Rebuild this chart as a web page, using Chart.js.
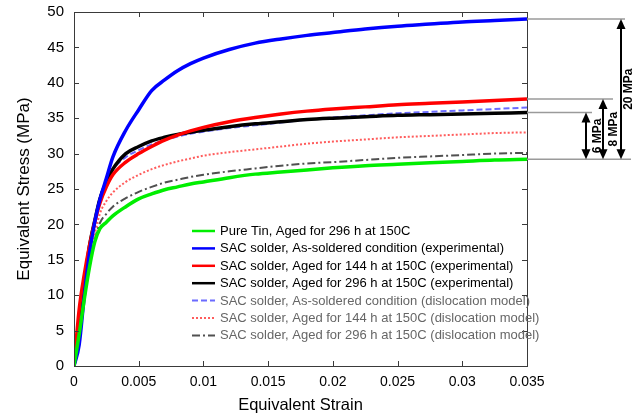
<!DOCTYPE html>
<html lang="en">

<head>
  <meta charset="UTF-8">
  <title>Equivalent Stress vs Strain</title>
  <style>
    body {
      margin: 0;
      background-color: #ffffff;
    }

    .chart-box {
      width: 642px;
      height: 420px;
      position: relative;
    }
  </style>
  <script src="https://cdn.jsdelivr.net/npm/chart.js"></script>
</head>

<body>
  <div class="chart-box">
    <canvas id="stressChart"></canvas>
  </div>

  <script>
    // strain samples shared by every curve
    const strain = [0, 0.0004, 0.0008, 0.0012, 0.0016, 0.002, 0.0025, 0.003, 0.004, 0.005, 0.006, 0.007, 0.008,
      0.009, 0.01, 0.012, 0.014, 0.016, 0.018, 0.02, 0.0225, 0.025, 0.0275, 0.03, 0.0325, 0.035];

    // equivalent stress (MPa)
    const pureTin296 = [0, 4.5, 9.5, 14, 17.5, 19.4, 20.3, 21.2, 22.5, 23.6, 24.3, 24.9, 25.3, 25.7, 26.0, 26.6,
      27.1, 27.4, 27.7, 28.0, 28.3, 28.5, 28.7, 28.9, 29.1, 29.2];
    const sacAsSolderedExp = [0, 3, 10, 16, 20.3, 23.5, 26.5, 29.5, 33.3, 36.2, 38.9, 40.4, 41.7, 42.7, 43.5, 44.7,
      45.6, 46.2, 46.7, 47.1, 47.6, 48.0, 48.3, 48.6, 48.8, 49.0];
    const sacAged144Exp = [0, 8, 13, 17, 20.3, 23, 25.3, 27, 28.8, 30.0, 31.0, 31.9, 32.6, 33.2, 33.7, 34.5,
      35.1, 35.6, 36.0, 36.3, 36.6, 36.9, 37.1, 37.3, 37.5, 37.7];
    const sacAged296Exp = [0, 5, 11.5, 17, 20.5, 23.6, 26, 27.8, 30.0, 31.0, 31.8, 32.3, 32.7, 33.0, 33.3, 33.8,
      34.2, 34.5, 34.8, 35.0, 35.2, 35.4, 35.5, 35.6, 35.7, 35.8];
    const sacAsSolderedModel = [0, 4, 9.5, 15.5, 20.5, 23.8, 26.3, 27.8, 29.5, 30.5, 31.3, 31.9, 32.4, 32.8, 33.1,
      33.6, 34.0, 34.4, 34.8, 35.1, 35.4, 35.7, 35.9, 36.1, 36.3, 36.5];
    const sacAged144Model = [0, 4.5, 9.5, 14.5, 18.5, 21.5, 23.3, 24.5, 26.0, 27.0, 27.8, 28.4, 28.9, 29.3, 29.7,
      30.2, 30.6, 31.0, 31.4, 31.7, 32.0, 32.3, 32.5, 32.7, 32.9, 33.0];
    const sacAged296Model = [0, 4.5, 9.5, 14, 17.8, 20.2, 21.5, 22.5, 23.7, 24.6, 25.3, 25.9, 26.3, 26.7, 27.0,
      27.5, 27.9, 28.3, 28.6, 28.8, 29.1, 29.4, 29.6, 29.8, 30.0, 30.1];

    const seriesNames = [
      'Pure Tin, Aged for 296 h at 150C',
      'SAC solder, As-soldered condition (experimental)',
      'SAC solder, Aged for 144 h at 150C (experimental)',
      'SAC solder, Aged for 296 h at 150C (experimental)',
      'SAC solder, As-soldered condition (dislocation model)',
      'SAC solder, Aged for 144 h at 150C (dislocation model)',
      'SAC solder, Aged for 296 h at 150C (dislocation model)'
    ];

    const toPoints = values => values.map((v, i) => ({ x: strain[i], y: v }));

    function curve(label, values, color, width, dash, textColor) {
      return {
        label: label,
        data: toPoints(values),
        borderColor: color,
        borderWidth: width,
        borderDash: dash,
        textColor: textColor,
        pointRadius: 0,
        fill: false,
        cubicInterpolationMode: 'monotone'
      };
    }

    // short gray guides + double arrows showing the stress gaps at the end of the curves
    const gapNotes = {
      id: 'gapNotes',
      afterDraw(chart) {
        const ctx = chart.ctx;
        const y = chart.scales.y;
        const right = chart.chartArea.right;
        const last = arr => arr[arr.length - 1];
        const yTin = y.getPixelForValue(last(pureTin296));
        const yBlue = y.getPixelForValue(last(sacAsSolderedExp));
        const yRed = y.getPixelForValue(last(sacAged144Exp));
        const yBlack = y.getPixelForValue(last(sacAged296Exp));

        ctx.save();
        ctx.strokeStyle = '#9a9a9a';
        ctx.lineWidth = 1.5;
        [[yBlue, 625], [yRed, 613], [yBlack, 592], [yTin, 631]].forEach(([py, x2]) => {
          ctx.beginPath();
          ctx.moveTo(right, py);
          ctx.lineTo(x2, py);
          ctx.stroke();
        });

        function arrow(x, y1, y2, text, tx) {
          const head = 10, half = 4.5;
          ctx.strokeStyle = '#000';
          ctx.fillStyle = '#000';
          ctx.lineWidth = 2;
          ctx.beginPath();
          ctx.moveTo(x, y1 + head - 1);
          ctx.lineTo(x, y2 - head + 1);
          ctx.stroke();
          ctx.beginPath();
          ctx.moveTo(x, y1);
          ctx.lineTo(x - half, y1 + head);
          ctx.lineTo(x + half, y1 + head);
          ctx.closePath();
          ctx.fill();
          ctx.beginPath();
          ctx.moveTo(x, y2);
          ctx.lineTo(x - half, y2 - head);
          ctx.lineTo(x + half, y2 - head);
          ctx.closePath();
          ctx.fill();

          ctx.save();
          ctx.translate(tx, (y1 + y2) / 2);
          ctx.rotate(-Math.PI / 2);
          ctx.font = 'bold 12px Arial, "Liberation Sans"';
          ctx.textAlign = 'center';
          ctx.textBaseline = 'middle';
          ctx.fillText(text, 0, 0);
          ctx.restore();
        }

        arrow(586, yBlack, yTin, '6 MPa', 598);
        arrow(603, yRed, yTin, '8 MPa', 614);
        arrow(621, yBlue, yTin, '20 MPa', 629);
        ctx.restore();
      }
    };

    // box around the plot with inward tick marks on all four sides
    const frame = {
      id: 'frame',
      afterDatasetsDraw(chart) {
        const ctx = chart.ctx;
        const { left, right, top, bottom } = chart.chartArea;
        const len = 5;
        ctx.save();
        ctx.strokeStyle = '#3a3a3a';
        ctx.lineWidth = 1;
        ctx.beginPath();
        chart.scales.x.ticks.forEach(t => {
          const px = Math.round(chart.scales.x.getPixelForValue(t.value)) + 0.5;
          ctx.moveTo(px, bottom); ctx.lineTo(px, bottom - len);
          ctx.moveTo(px, top); ctx.lineTo(px, top + len);
        });
        chart.scales.y.ticks.forEach(t => {
          const py = Math.round(chart.scales.y.getPixelForValue(t.value)) + 0.5;
          ctx.moveTo(left, py); ctx.lineTo(left + len, py);
          ctx.moveTo(right, py); ctx.lineTo(right - len, py);
        });
        ctx.stroke();
        ctx.strokeRect(Math.round(left) + 0.5, Math.round(top) + 0.5,
          Math.round(right - left), Math.round(bottom - top));
        ctx.restore();
      }
    };

    // legend drawn inside the plot, lower right, without a box
    const insideLegend = {
      id: 'insideLegend',
      afterDraw(chart) {
        const ctx = chart.ctx;
        const x0 = 192, x1 = 215, tx = 220;
        let ty = 231;
        ctx.save();
        ctx.font = '13px Arial, "Liberation Sans"';
        ctx.textBaseline = 'middle';
        chart.data.datasets.forEach(ds => {
          ctx.strokeStyle = ds.borderColor;
          ctx.lineWidth = Math.min(ds.borderWidth, 2.5);
          ctx.setLineDash(ds.borderDash || []);
          ctx.beginPath();
          ctx.moveTo(x0, ty);
          ctx.lineTo(x1, ty);
          ctx.stroke();
          ctx.setLineDash([]);
          ctx.fillStyle = ds.textColor;
          ctx.fillText(ds.label, tx, ty + 0.5);
          ty += 17.4;
        });
        ctx.restore();
      }
    };

    const ctx = document.getElementById('stressChart').getContext('2d');

    new Chart(ctx, {
      type: 'line',
      data: {
        datasets: [
          curve(seriesNames[0], pureTin296, '#00ee00', 3.5, [], '#000'),
          curve(seriesNames[1], sacAsSolderedExp, '#0000ff', 3.5, [], '#000'),
          curve(seriesNames[2], sacAged144Exp, '#ff0000', 3.5, [], '#000'),
          curve(seriesNames[3], sacAged296Exp, '#000000', 3.5, [], '#000'),
          curve(seriesNames[4], sacAsSolderedModel, '#6b6bff', 2, [6, 3], '#666'),
          curve(seriesNames[5], sacAged144Model, '#ff5c5c', 2, [2, 2], '#666'),
          curve(seriesNames[6], sacAged296Model, '#505050', 2, [8, 3, 2, 3], '#666')
        ]
      },
      options: {
        responsive: true,
        maintainAspectRatio: false,
        animation: false,
        layout: {
          padding: { top: 12, right: 115, left: 0, bottom: 0 }
        },
        plugins: {
          legend: { display: false },
          tooltip: { enabled: false }
        },
        scales: {
          x: {
            type: 'linear',
            min: 0,
            max: 0.035,
            grid: { display: false, drawTicks: false },
            border: { display: false },
            ticks: {
              stepSize: 0.005,
              color: '#000',
              padding: 8,
              maxRotation: 0,
              font: { family: 'Arial, "Liberation Sans"', size: 14 },
              callback: v => String(+v.toFixed(3))
            },
            title: {
              display: true,
              text: 'Equivalent Strain',
              color: '#000',
              padding: { top: 0, bottom: 5 },
              font: { family: 'Arial, "Liberation Sans"', size: 16.5 }
            },
            afterFit: s => { s.height = 54; s.paddingLeft = 0; s.paddingRight = 0; }
          },
          y: {
            min: 0,
            max: 50,
            grid: { display: false, drawTicks: false },
            border: { display: false },
            ticks: {
              stepSize: 5,
              color: '#000',
              padding: 10,
              font: { family: 'Arial, "Liberation Sans"', size: 15 }
            },
            title: {
              display: true,
              text: 'Equivalent Stress (MPa)',
              color: '#000',
              padding: { top: 14, bottom: 0 },
              font: { family: 'Arial, "Liberation Sans"', size: 17 }
            },
            afterFit: s => { s.width = 74; s.paddingTop = 0; s.paddingBottom = 0; }
          }
        }
      },
      plugins: [frame, insideLegend, gapNotes]
    });
  </script>
</body>

</html>
